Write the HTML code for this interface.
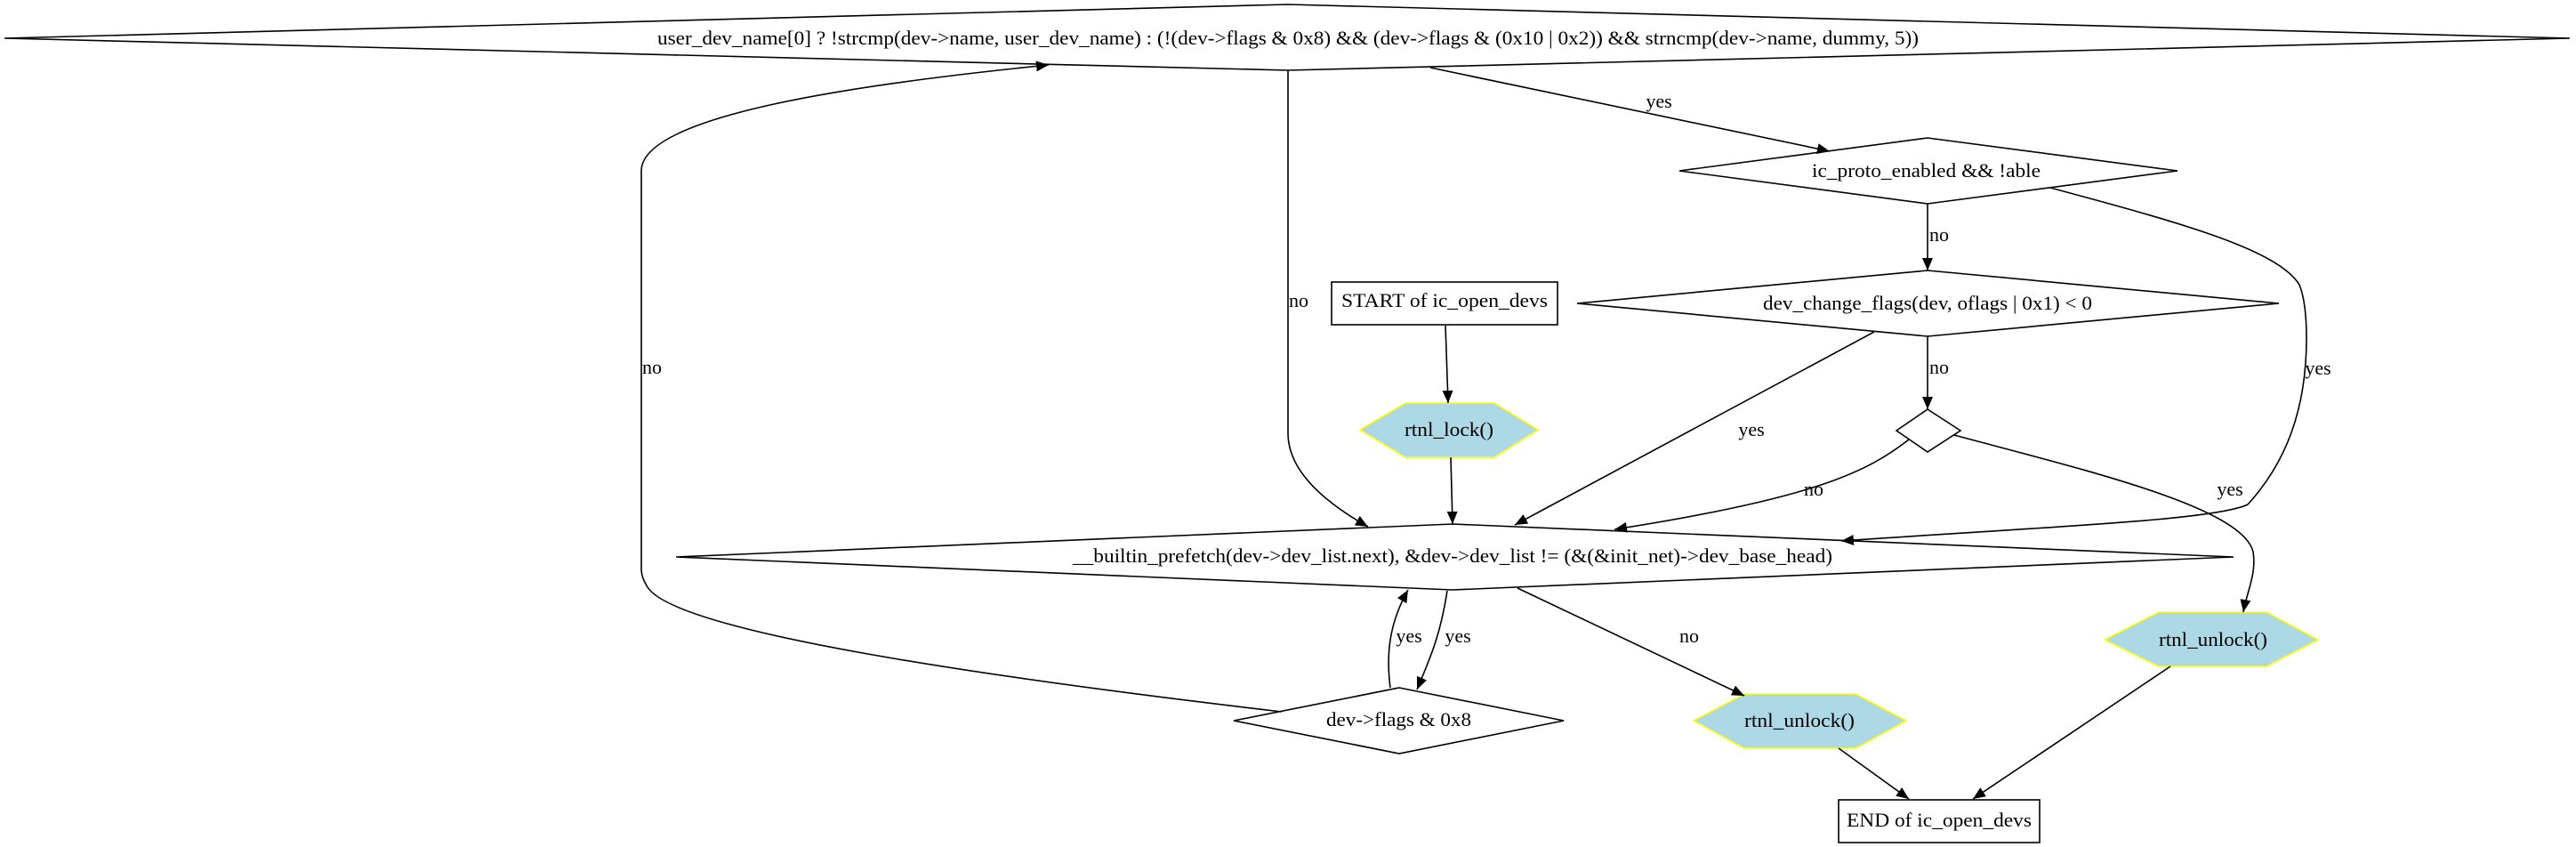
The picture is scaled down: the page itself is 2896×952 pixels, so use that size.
<!DOCTYPE html>
<html><head><meta charset="utf-8"><style>
html,body{margin:0;padding:0;background:#fff;}
svg{display:block;}
text{font-family:"Liberation Serif",serif;font-size:22px;fill:#000;}
</style></head><body>
<svg width="2896" height="952" viewBox="0 0 2896 952" xmlns="http://www.w3.org/2000/svg">
<defs>
<marker id="a" markerUnits="userSpaceOnUse" markerWidth="14" markerHeight="12" refX="14" refY="6" orient="auto">
<path d="M0,0 L14,6 L0,12 Z" fill="#000"/>
</marker>
</defs>
<g fill="none" stroke="#000" stroke-width="1.6">
<polygon points="1448,5 2889,43 1448,79 5,43" fill="#fff"/>
<polygon points="2167,155 2448,192 2167,229 1888,192" fill="#fff"/>
<polygon points="2167,304 2562,341 2167,378 1773,341" fill="#fff"/>
<polygon points="2167,460 2204,484 2167,508 2132,484" fill="#fff"/>
<rect x="1497" y="317" width="254" height="48" fill="#fff"/>
<polygon points="1633,589 2511,626 1633,663 760,626" fill="#fff"/>
<polygon points="1573,773 1758,810 1573,847 1387,810" fill="#fff"/>
<rect x="2067" y="899" width="226" height="48" fill="#fff"/>
</g>
<g stroke="#ffff00" stroke-width="1.6" fill="#add8e6">
<polygon points="1580,453 1680,453 1729,483 1680,514 1580,514 1529,483"/>
<polygon points="1961,780 2086,780 2143,810 2086,841 1961,841 1904,810"/>
<polygon points="2427,688 2548,688 2606,719 2548,749 2427,749 2366,719"/>
</g>
<g fill="none" stroke="#000" stroke-width="1.6" marker-end="url(#a)">
<path d="M1608,76 L2057,170"/>
<path d="M1448,79 L1448,487 C1448,530 1490,565 1538,592"/>
<path d="M2167,229 L2167,304"/>
<path d="M2305,211 C2450,250 2560,280 2585,320 Q2593,340 2593,380 C2593,460 2570,520 2527,567 C2490,585 2300,592 2070,608"/>
<path d="M2167,378 L2167,460"/>
<path d="M2107,373 L1703,590"/>
<path d="M2146,494 C2100,530 2040,560 1815,595"/>
<path d="M2197,489 C2350,530 2520,570 2533,620 C2537,645 2526,665 2522,688"/>
<path d="M1625,366 L1628,453"/>
<path d="M1631,514 L1633,589"/>
<path d="M1627,664 C1620,710 1610,735 1593,775"/>
<path d="M1563,773 C1558,735 1562,700 1583,663"/>
<path d="M1441,800 C1100,760 760,710 728,660 C722,650 721,645 721,638 L721,192 C721,130 960,95 1179,73"/>
<path d="M1706,661 L1961,782"/>
<path d="M2067,841 L2146,898"/>
<path d="M2440,749 L2218,898"/>
</g>
<text x="739" y="50" textLength="1418" lengthAdjust="spacingAndGlyphs">user_dev_name[0] ? !strcmp(dev-&gt;name, user_dev_name) : (!(dev-&gt;flags &amp; 0x8) &amp;&amp; (dev-&gt;flags &amp; (0x10 | 0x2)) &amp;&amp; strncmp(dev-&gt;name, dummy, 5))</text>
<text x="2037" y="199" textLength="257" lengthAdjust="spacingAndGlyphs">ic_proto_enabled &amp;&amp; !able</text>
<text x="1982" y="348" textLength="370" lengthAdjust="spacingAndGlyphs">dev_change_flags(dev, oflags | 0x1) &lt; 0</text>
<text x="1508" y="345" textLength="232" lengthAdjust="spacingAndGlyphs">START of ic_open_devs</text>
<text x="1579" y="490" textLength="100" lengthAdjust="spacingAndGlyphs">rtnl_lock()</text>
<text x="1206" y="632" textLength="854" lengthAdjust="spacingAndGlyphs">__builtin_prefetch(dev-&gt;dev_list.next), &amp;dev-&gt;dev_list != (&amp;(&amp;init_net)-&gt;dev_base_head)</text>
<text x="1491" y="816" textLength="163" lengthAdjust="spacingAndGlyphs">dev-&gt;flags &amp; 0x8</text>
<text x="1961" y="817" textLength="124" lengthAdjust="spacingAndGlyphs">rtnl_unlock()</text>
<text x="2427" y="726" textLength="122" lengthAdjust="spacingAndGlyphs">rtnl_unlock()</text>
<text x="2076" y="929" textLength="208" lengthAdjust="spacingAndGlyphs">END of ic_open_devs</text>
<g text-anchor="middle">
<text x="1865" y="121">yes</text>
<text x="2180" y="271">no</text>
<text x="2606" y="421">yes</text>
<text x="2180" y="420">no</text>
<text x="1969" y="490">yes</text>
<text x="2039" y="557">no</text>
<text x="2507" y="557">yes</text>
<text x="1460" y="345">no</text>
<text x="733" y="420">no</text>
<text x="1584" y="722">yes</text>
<text x="1639" y="722">yes</text>
<text x="1899" y="722">no</text>
</g>
</svg>
</body></html>
